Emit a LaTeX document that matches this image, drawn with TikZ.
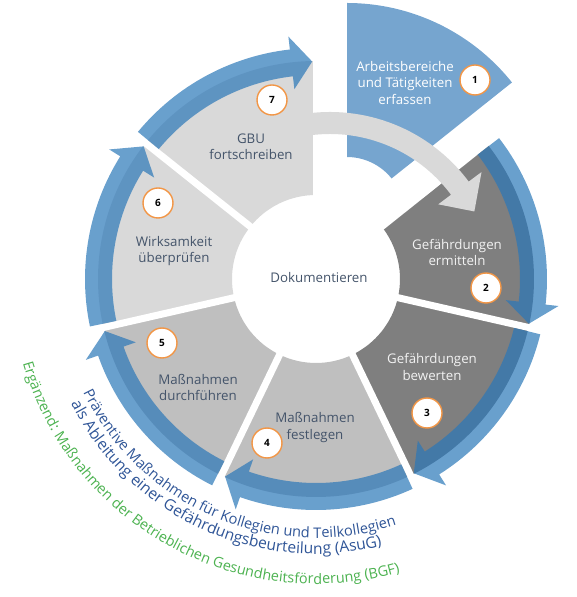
\documentclass[tikz,border=0pt]{standalone}
\usepackage{fontspec}
\setmainfont{Open Sans}
\usetikzlibrary{decorations.text}
\definecolor{segA}{RGB}{118,165,207}
\definecolor{segB}{RGB}{127,127,127}
\definecolor{segC}{RGB}{191,191,191}
\definecolor{segD}{RGB}{217,217,217}
\definecolor{ringblue}{RGB}{42,119,184}
\definecolor{txtdark}{RGB}{68,84,106}
\definecolor{txtlight}{RGB}{242,242,242}
\definecolor{txtblue}{RGB}{47,85,151}
\definecolor{txtgreen}{RGB}{76,178,80}
\definecolor{badgeorange}{RGB}{242,150,70}
\begin{document}
\begin{tikzpicture}[x=1pt,y=1pt,
  lbl/.style={align=center,font=\fontsize{13.3}{16.3}\selectfont,text=txtdark},
  lbllight/.style={lbl,text=txtlight},
  badge/.style={circle,draw=badgeorange,fill=white,line width=1.4pt,minimum size=30pt,inner sep=0pt,font=\fontsize{10}{10}\selectfont\bfseries,text=black}]
\useasboundingbox (0,0) rectangle (576,597);
\coordinate (C) at (316,318);
\coordinate (C1) at (347,383);
\coordinate (D) at (330,312);
% grey sectors
\foreach \i/\col in {2/segB,3/segB,4/segC,5/segC,6/segD,7/segD} {
  \pgfmathsetmacro\a{90-(\i-1)*360/7}
  \pgfmathsetmacro\b{90-\i*360/7}
  \fill[\col] ([shift={(\a:218)}]C) arc[start angle=\a, end angle=\b, radius=218]
    -- ([shift={(\b:84)}]C) arc[start angle=\b, end angle=\a, radius=84] -- cycle;
}
% gaps
\foreach \k in {0,...,6} {
  \pgfmathsetmacro\g{90-\k*360/7}
  \draw[white, line width=7pt] ([shift={(\g:70)}]C) -- ([shift={(\g:250)}]C);
}
% exploded first segment
\fill[segA] ([shift={(90:211)}]C1) arc[start angle=90, end angle=38.571, radius=211]
  -- ([shift={(38.571:57)}]C1) arc[start angle=38.571, end angle=90, radius=57] -- cycle;
% ring arrows
\foreach \i in {2,...,7} {
  \pgfmathsetmacro\s{90-(\i-1)*360/7-1}
  \pgfmathsetmacro\t{90-\i*360/7+1}
  \pgfmathsetmacro\h{\t+5.5}
  \fill[ringblue, fill opacity=0.7] ([shift={(\s:231)}]C) arc[start angle=\s, end angle=\h, radius=231]
    -- ([shift={(\h:244)}]C) -- ([shift={(\t:217.5)}]C) -- ([shift={(\h:191)}]C)
    -- ([shift={(\h:204)}]C) arc[start angle=\h, end angle=\s, radius=204] -- cycle;
}
% curved grey arrow
\fill[segD] ([shift={(100:173)}]D) arc[start angle=100, end angle=36.7, radius=173]
  -- ([shift={(36.7:189)}]D) -- ([shift={(27:162)}]D) -- ([shift={(36.7:135)}]D)
  -- ([shift={(36.7:151)}]D) arc[start angle=36.7, end angle=100, radius=151] -- cycle;
% labels
\node[lbl,text=white] (t1) at (405,514) {Arbeitsbereiche\\und Tätigkeiten\\erfassen};
\node[lbllight] (t2) at (457,344.5) {Gefährdungen\\ermitteln};
\node[lbllight] (t3) at (432,230) {Gefährdungen\\bewerten};
\node[lbl] (t4) at (315,169.5) {Maßnahmen\\festlegen};
\node[lbl] (t5) at (198,209.5) {Maßnahmen\\durchführen};
\node[lbl] (t6) at (174,346) {Wirksamkeit\\überprüfen};
\node[lbl] (t7) at (251,450.5) {GBU\\fortschreiben};
\node[lbl] (doc) at (319,319) {Dokumentieren};
% badges
\node[badge] (b1) at (475,517) {1};
\node[badge] (b2) at (486,309) {2};
\node[badge] (b3) at (427,184) {3};
\node[badge] (b4) at (267,154) {4};
\node[badge] (b5) at (162,254) {5};
\node[badge] (b6) at (158,394) {6};
\node[badge] (b7) at (272,497) {7};
% curved texts
\path[decorate, decoration={text along path, text align=left,
  text={|\fontsize{14.6}{16}\selectfont\color{txtblue}|Präventive Maßnahmen für Kollegien und Teilkollegien}}]
  ([shift={(206:259)}]C) arc[start angle=206, end angle=310, radius=259];
\path[decorate, decoration={text along path, text align=left,
  text={|\fontsize{15.6}{17}\selectfont\color{txtblue}|als Ableitung einer Gefährdungsbeurteilung (AsuG)}}]
  ([shift={(207:275)}]C) arc[start angle=207, end angle=310, radius=275];
\path[decorate, decoration={text along path, text align=left,
  text={|\fontsize{14.4}{16}\selectfont\color{txtgreen}|Ergänzend: Maßnahmen der Betrieblichen Gesundheitsförderung (BGF)}}]
  ([shift={(196:305)}]C) arc[start angle=196, end angle=310, radius=305];
\end{tikzpicture}
\end{document}
